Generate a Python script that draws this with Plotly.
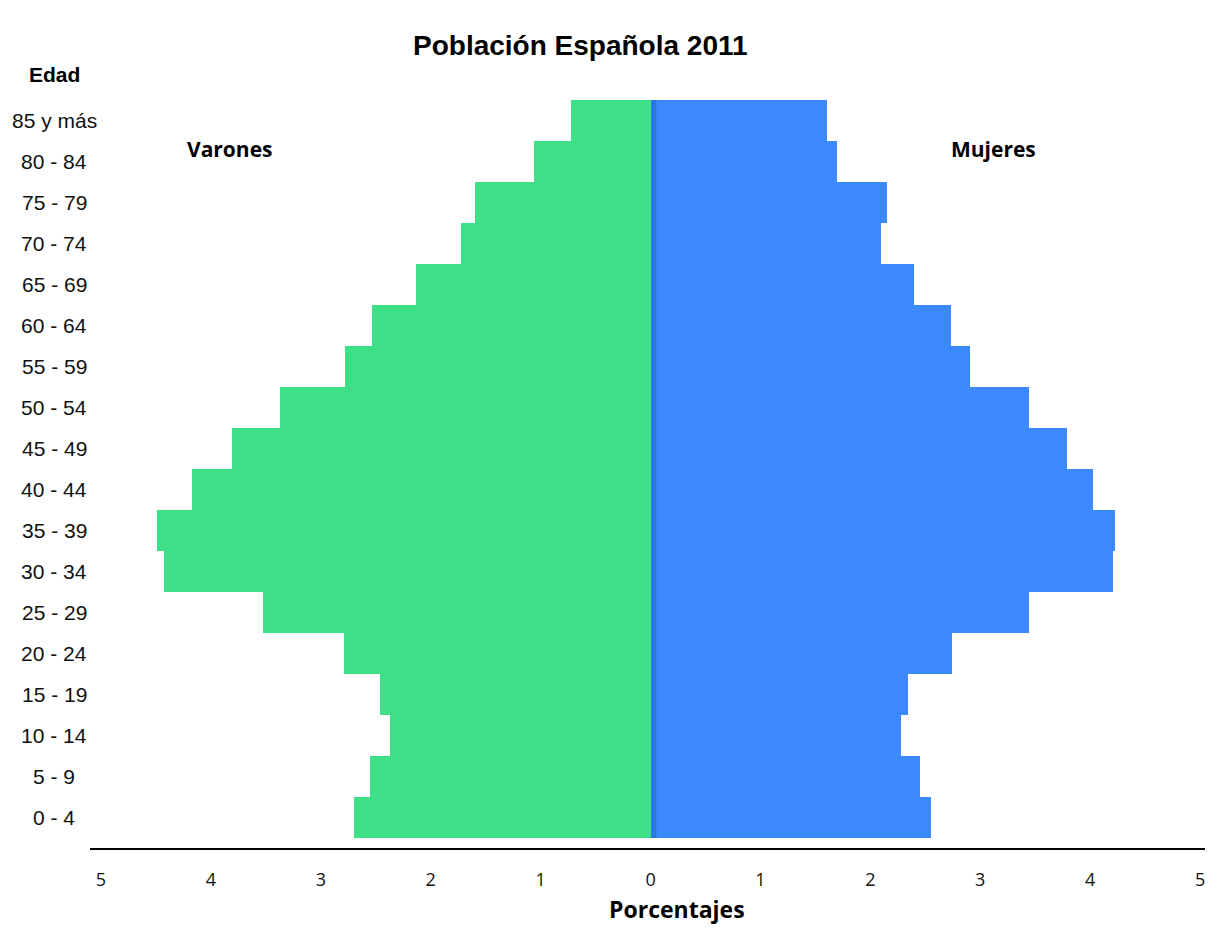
import plotly.graph_objects as go

# ---- data ----
age_groups = ["0 - 4", "5 - 9", "10 - 14", "15 - 19", "20 - 24", "25 - 29", "30 - 34",
              "35 - 39", "40 - 44", "45 - 49", "50 - 54", "55 - 59", "60 - 64",
              "65 - 69", "70 - 74", "75 - 79", "80 - 84", "85 y más"]
varones = [2.70, 2.55, 2.37, 2.46, 2.79, 3.53, 4.43, 4.49, 4.17, 3.81, 3.37, 2.78,
           2.53, 2.13, 1.72, 1.60, 1.06, 0.72]
mujeres = [2.55, 2.45, 2.28, 2.34, 2.74, 3.44, 4.21, 4.23, 4.03, 3.79, 3.44, 2.91,
           2.73, 2.40, 2.10, 2.15, 1.70, 1.61]
x_ticks = [-5, -4, -3, -2, -1, 0, 1, 2, 3, 4, 5]
x_tick_text = [str(abs(v)) for v in x_ticks]

# ---- layout geometry (pixels in the page; page body has an 8px margin) ----
OFF = 8
W, H = 1218 - 2 * OFF, 935 - 2 * OFF
L, R, T, B = 90 - OFF, 1205 - OFF, 100 - OFF, 848 - OFF

def px(x):
    return (x - OFF - L) / (R - L)

def py(y):
    return (B - (y - OFF)) / (B - T)

GREEN = "#3DDF87"
BLUE = "#3B89FD"

fig = go.Figure()
fig.add_trace(go.Bar(
    y=age_groups, x=[-v for v in varones], orientation="h", name="Varones",
    marker=dict(color=GREEN, line=dict(width=0)),
    customdata=varones, hovertemplate="%{y}: %{customdata}%<extra>Varones</extra>"))
fig.add_trace(go.Bar(
    y=age_groups, x=mujeres, orientation="h", name="Mujeres",
    marker=dict(color=BLUE, line=dict(width=0)),
    hovertemplate="%{y}: %{x}%<extra>Mujeres</extra>"))

n = len(age_groups)
fig.add_shape(type="line", xref="x", yref="y", x0=0.03, x1=0.03, y0=-0.5, y1=n - 0.5,
              line=dict(color="#2A76E0", width=5), layer="above")

annotations = []
for g in age_groups:
    annotations.append(dict(x=px(54), xref="paper", y=g, yref="y", text=g, showarrow=False,
                            xanchor="center", yanchor="middle",
                            font=dict(family="Liberation Sans, Arial", size=21, color="#111")))
annotations += [
    dict(x=px(580), y=py(45), xref="paper", yref="paper", text="<b>Población Española 2011</b>",
         showarrow=False, xanchor="center", yanchor="middle",
         font=dict(family="Liberation Sans, Arial", size=28, color="#000")),
    dict(x=px(54), y=py(74), xref="paper", yref="paper", text="<b>Edad</b>",
         showarrow=False, xanchor="center", yanchor="middle",
         font=dict(family="Liberation Sans, Arial", size=21, color="#000")),
    dict(x=px(230), y=py(149), xref="paper", yref="paper", text="<b>Varones</b>",
         showarrow=False, xanchor="center", yanchor="middle",
         font=dict(family="Open Sans", size=21, color="#000")),
    dict(x=px(993), y=py(149), xref="paper", yref="paper", text="<b>Mujeres</b>",
         showarrow=False, xanchor="center", yanchor="middle",
         font=dict(family="Open Sans", size=21, color="#000")),
    dict(x=px(677), y=py(909), xref="paper", yref="paper", text="<b>Porcentajes</b>",
         showarrow=False, xanchor="center", yanchor="middle",
         font=dict(family="Open Sans", size=23, color="#000")),
]

fig.update_layout(
    width=W, height=H,
    margin=dict(l=L, r=W - R, t=T, b=H - B, pad=0),
    paper_bgcolor="white", plot_bgcolor="white",
    barmode="overlay", bargap=0, showlegend=False,
    annotations=annotations,
    xaxis=dict(range=[-5.1, 5.045], tickvals=x_ticks, ticktext=x_tick_text,
               showgrid=False, zeroline=False, showline=True, linecolor="black", linewidth=2,
               ticks="", ticklabelstandoff=14,
               tickfont=dict(family="Open Sans", size=18, color="#111"), fixedrange=True),
    yaxis=dict(categoryorder="array", categoryarray=age_groups, range=[-0.744, n - 0.5],
               showticklabels=False, showgrid=False, zeroline=False, showline=False,
               fixedrange=True),
)

fig.write_html("out.html")
